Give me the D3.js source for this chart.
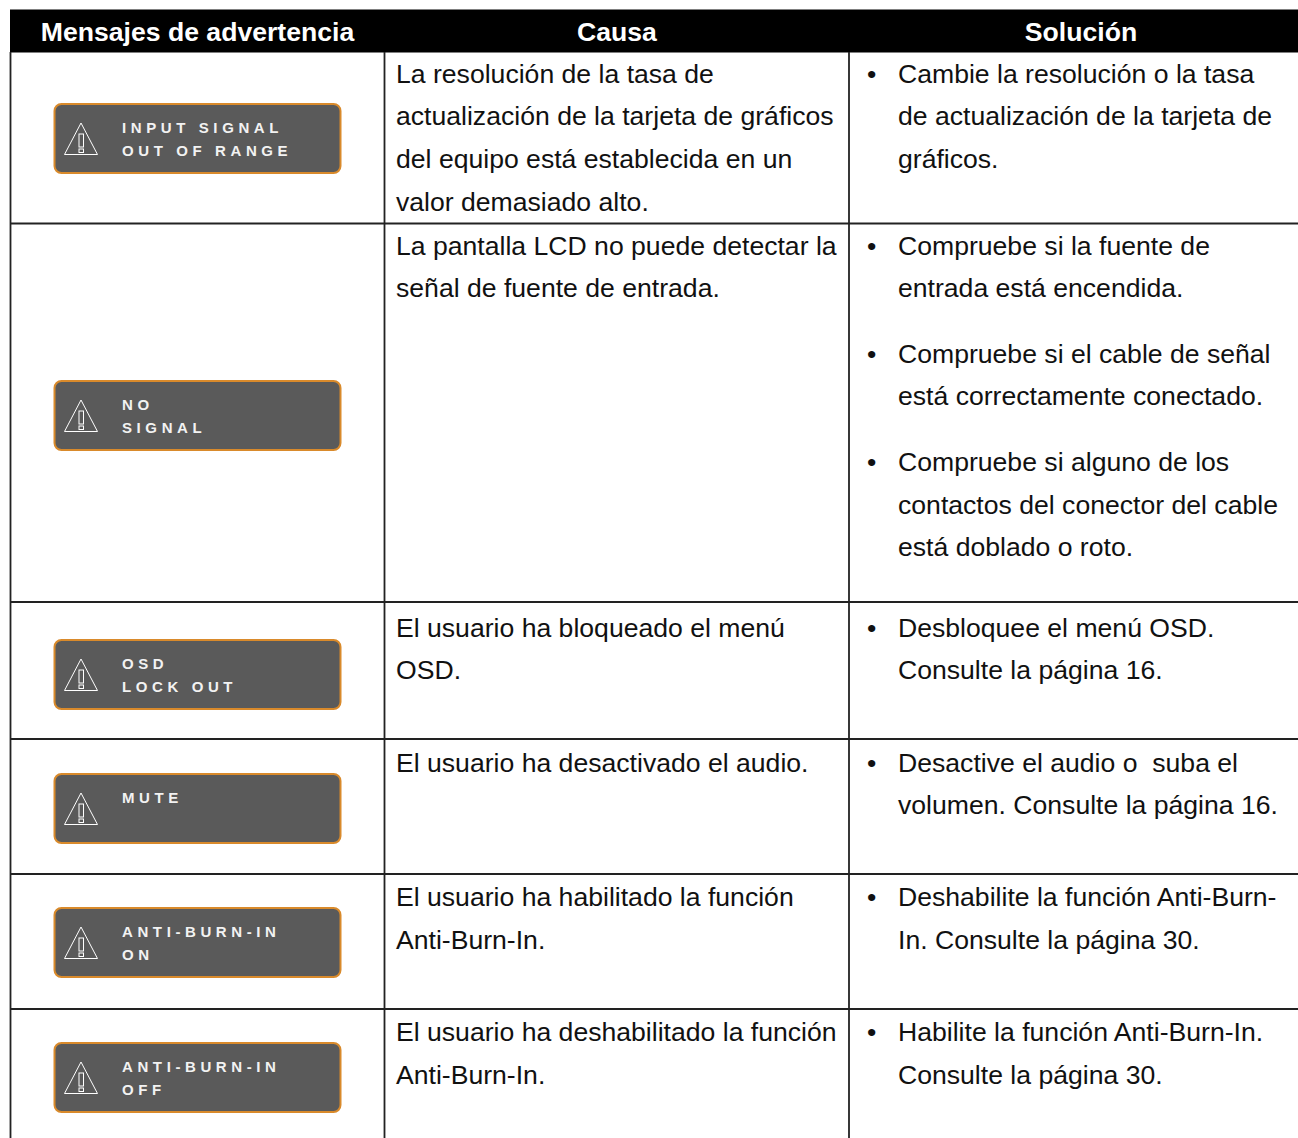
<!DOCTYPE html>
<html><head><meta charset="utf-8">
<script src="https://cdn.jsdelivr.net/npm/d3@7"></script>
<style>html,body{margin:0;padding:0;background:#fff}svg{display:block}text{font-family:"Liberation Sans",Arial,sans-serif;white-space:pre}</style>
</head><body><div id="c"></div>
<script>
const headers = ["Mensajes de advertencia","Causa","Solución"];
const badges = [["INPUT SIGNAL","OUT OF RANGE"],["NO","SIGNAL"],["OSD","LOCK OUT"],["MUTE"],["ANTI-BURN-IN","ON"],["ANTI-BURN-IN","OFF"]];
const causes = [
 ["La resolución de la tasa de","actualización de la tarjeta de gráficos","del equipo está establecida en un","valor demasiado alto."],
 ["La pantalla LCD no puede detectar la","señal de fuente de entrada."],
 ["El usuario ha bloqueado el menú","OSD."],
 ["El usuario ha desactivado el audio."],
 ["El usuario ha habilitado la función","Anti-Burn-In."],
 ["El usuario ha deshabilitado la función","Anti-Burn-In."]];
const solutions = [
 [["Cambie la resolución o la tasa","de actualización de la tarjeta de","gráficos."]],
 [["Compruebe si la fuente de","entrada está encendida."],["Compruebe si el cable de señal","está correctamente conectado."],["Compruebe si alguno de los","contactos del conector del cable","está doblado o roto."]],
 [["Desbloquee el menú OSD.","Consulte la página 16."]],
 [["Desactive el audio o  suba el","volumen. Consulte la página 16."]],
 [["Deshabilite la función Anti-Burn-","In. Consulte la página 30."]],
 [["Habilite la función Anti-Burn-In.","Consulte la página 30."]]];

const W=1298,H=1138;
const rowEdges=[52,223.5,602,739,874,1009,1160];
const colEdges=[10.5,384.5,849];
const firstBase=[82.7,254.5,636.5,771.5,906,1041];
const badgeTop=[104,381,640,774,908,1043];
const LH=42.6, PARA=23, FS=26.6;
const svg=d3.select("#c").append("svg").attr("width",W).attr("height",H).attr("viewBox",[0,0,W,H]).style("background","#fff");
const ink="#111";
svg.append("rect").attr("x",10).attr("y",9.5).attr("width",W-10).attr("height",43).attr("fill","#000");
const hx=[197.5,617,1081];
svg.selectAll("text.h").data(headers).join("text").attr("class","h").attr("x",(d,i)=>hx[i]).attr("y",40.5).attr("text-anchor","middle")
 .attr("fill","#fff").attr("font-weight","700").attr("font-size",FS).text(d=>d);
// grid
svg.selectAll("line.c").data(colEdges).join("line").attr("class","c").attr("x1",d=>d).attr("x2",d=>d).attr("y1",52).attr("y2",H).attr("stroke","#222").attr("stroke-width",1.8);
svg.selectAll("line.r").data(rowEdges.slice(1,-1)).join("line").attr("class","r").attr("x1",10).attr("x2",W).attr("y1",d=>d).attr("y2",d=>d).attr("stroke","#222").attr("stroke-width",1.8);
// badges
const b=svg.selectAll("g.b").data(badges).join("g").attr("class","b").attr("transform",(d,i)=>`translate(54.5,${badgeTop[i]})`);
b.append("rect").attr("x",0).attr("y",0).attr("width",286).attr("height",69).attr("rx",7).attr("fill","#5a5a5a").attr("stroke","#d98a2b").attr("stroke-width",2);
b.append("path").attr("d",d3.line()([[26.5,19],[10,50.5],[43,50.5]])+"Z").attr("fill","none").attr("stroke","#fff").attr("stroke-width",1);
b.append("rect").attr("x",24.5).attr("y",30).attr("width",4.5).attr("height",13).attr("fill","none").attr("stroke","#fff").attr("stroke-width",1);
b.append("rect").attr("x",24.5).attr("y",45).attr("width",4.5).attr("height",3.5).attr("fill","none").attr("stroke","#fff").attr("stroke-width",1);
b.selectAll("text").data(d=>d).join("text").attr("x",67.5).attr("y",(d,i)=>28.5+i*23).attr("fill","#f2f2f2").attr("font-weight","700").attr("font-size",15).attr("letter-spacing",4.6).text(d=>d);
// causes
const tc=svg.append("g").attr("fill",ink).attr("font-size",FS);
causes.forEach((ls,r)=>ls.forEach((t,i)=>tc.append("text").attr("x",396).attr("y",firstBase[r]+i*LH).text(t)));
// solutions
const ts=svg.append("g").attr("fill",ink).attr("font-size",FS);
solutions.forEach((paras,r)=>{let y=firstBase[r];paras.forEach(p=>{
 ts.append("text").attr("x",867).attr("y",y).text("•");
 p.forEach(t=>{ts.append("text").attr("x",898).attr("y",y).text(t);y+=LH;});
 y+=PARA;
});});
</script></body></html>
